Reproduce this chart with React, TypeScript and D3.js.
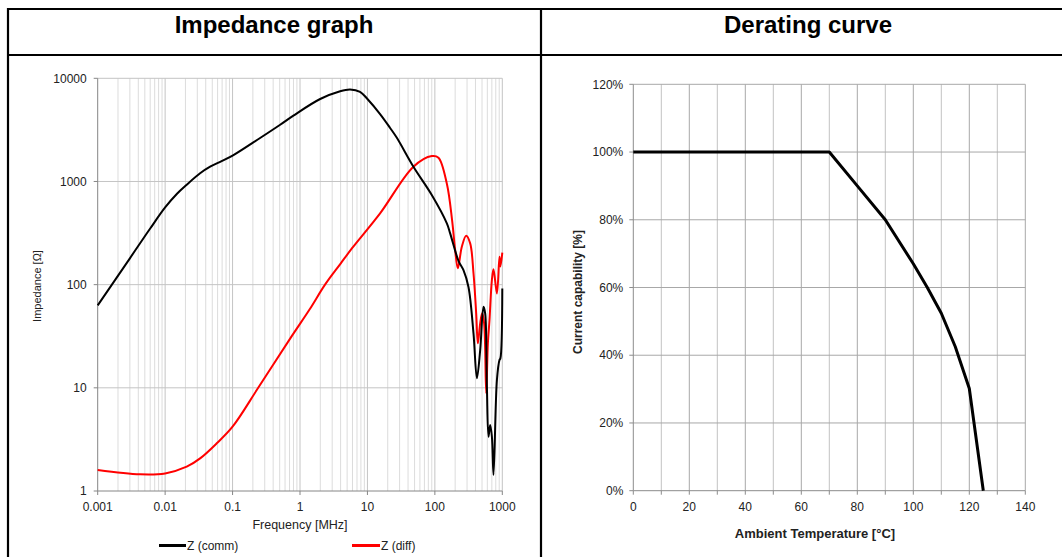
import React from 'react';
import * as d3 from 'd3';

// Impedance graph (frequency in MHz, impedance in ohm)
const commFreq = [0.001, 0.003, 0.006, 0.01, 0.015, 0.0209, 0.033, 0.0465, 0.07, 0.103, 0.256, 0.508, 0.798, 1.99, 3.94, 5.53, 7.77, 10, 15.4, 21.7, 27.3, 48.1, 90, 150.6, 168.6, 224, 265.6, 315, 374, 420, 470, 526, 557, 591, 624, 661, 701, 741, 832, 908, 937, 1000];
const commZ = [63, 180, 350, 560, 760, 930, 1200, 1390, 1580, 1800, 2640, 3550, 4350, 6300, 7500, 7800, 7400, 6300, 4500, 3300, 2650, 1390, 740, 393, 314, 170, 138, 95, 33.7, 12.4, 23.2, 61, 52.7, 10.3, 3.36, 4.36, 3.36, 1.43, 11.9, 18.6, 19.3, 92];

const diffFreq = [0.001, 0.00425, 0.01, 0.0209, 0.033, 0.0583, 0.1, 0.24, 0.75, 1.4, 2.35, 4, 6, 15.4, 48.1, 90.2, 113, 150.6, 180, 200, 219, 251, 291, 334, 374, 410, 434, 470, 503, 538, 577, 611, 646, 701, 741, 832, 908, 937, 1000];
const diffZ = [1.6, 1.45, 1.48, 1.72, 2.07, 2.9, 4.2, 10, 31.5, 58, 100, 160, 228, 491, 1390, 1762, 1700, 950, 423, 216, 144, 233, 298, 251, 129, 52.7, 27, 42.2, 52.7, 42, 8.85, 27, 45.4, 111, 141, 82, 186, 150, 204];

const freqTicks = [0.001, 0.01, 0.1, 1, 10, 100, 1000];
const freqLabels = ['0.001', '0.01', '0.1', '1', '10', '100', '1000'];
const zTicks = [1, 10, 100, 1000, 10000];

// Derating curve
const tempPts = [0, 70, 80, 90, 100, 105, 110, 115, 120, 125];
const capPts = [100, 100, 90, 80, 67, 60, 52.4, 42.5, 30.2, 0];
const tempTicks = [0, 20, 40, 60, 80, 100, 120, 140];
const tempMinor = [10, 30, 50, 70, 90, 110, 130];
const capTicks = [0, 20, 40, 60, 80, 100, 120];

const FONT = '"Liberation Sans", Arial, sans-serif';

export default function App() {
  // left chart scales
  const fx = d3.scaleLog().domain([0.001, 1000]).range([97.7, 502.3]);
  const zy = d3.scaleLog().domain([1, 10000]).range([491, 78.3]);

  const minorFreq: number[] = [];
  freqTicks.slice(0, -1).forEach(d => {
    for (let k = 2; k <= 9; k++) minorFreq.push(d * k);
  });

  const zLine = d3.line<[number, number]>().curve(d3.curveCatmullRom.alpha(0.5));
  const commPath = zLine(commFreq.map((f, i) => [fx(f), zy(commZ[i])] as [number, number]));
  const diffPath = zLine(diffFreq.map((f, i) => [fx(f), zy(diffZ[i])] as [number, number]));

  // right chart scales
  const tx = d3.scaleLinear().domain([0, 140]).range([633.3, 1025.3]);
  const cy = d3.scaleLinear().domain([0, 120]).range([490.7, 84.3]);
  const derPath = d3.line<number>()
    .x(d => tx(tempPts[d]))
    .y(d => cy(capPts[d]))(tempPts.map((_, i) => i));

  return (
    <svg width={1062} height={557} style={{ position: 'absolute', left: 0, top: 0, background: '#fff' }} fontFamily={FONT}>
      {/* table frame */}
      <g stroke="#000" strokeWidth={2.2} fill="none">
        <line x1={8} y1={9} x2={1062} y2={9} />
        <line x1={8} y1={55} x2={1062} y2={55} />
        <line x1={8} y1={8} x2={8} y2={557} />
        <line x1={541} y1={8} x2={541} y2={557} />
      </g>
      <text x={274} y={33} textAnchor="middle" fontSize={24} fontWeight="bold">Impedance graph</text>
      <text x={808} y={33} textAnchor="middle" fontSize={24} fontWeight="bold">Derating curve</text>

      {/* left chart grid */}
      <g>
        {minorFreq.map(f => (
          <line key={'m' + f} x1={fx(f)} x2={fx(f)} y1={zy(10000)} y2={zy(1)} stroke="#dcdcdc" strokeWidth={1} />
        ))}
        {freqTicks.slice(1).map(f => (
          <line key={'M' + f} x1={fx(f)} x2={fx(f)} y1={zy(10000)} y2={zy(1)} stroke="#c4c4c4" strokeWidth={1} />
        ))}
        {zTicks.slice(1).map(z => (
          <line key={'z' + z} x1={fx(0.001)} x2={fx(1000)} y1={zy(z)} y2={zy(z)} stroke="#c4c4c4" strokeWidth={1} />
        ))}
      </g>
      {/* left axes */}
      <g stroke="#868686" strokeWidth={1}>
        <line x1={fx(0.001)} x2={fx(0.001)} y1={zy(10000)} y2={zy(1)} />
        <line x1={fx(0.001)} x2={fx(1000)} y1={zy(1)} y2={zy(1)} />
        {zTicks.map(z => (
          <line key={'zt' + z} x1={fx(0.001) - 4} x2={fx(0.001)} y1={zy(z)} y2={zy(z)} />
        ))}
        {freqTicks.map(f => (
          <line key={'ft' + f} x1={fx(f)} x2={fx(f)} y1={zy(1)} y2={zy(1) + 4} />
        ))}
      </g>
      <g fontSize={12} fill="#222">
        {zTicks.map(z => (
          <text key={'zl' + z} x={fx(0.001) - 11} y={zy(z)} dy="0.35em" textAnchor="end">{z}</text>
        ))}
        {freqTicks.map((f, i) => (
          <text key={'fl' + f} x={fx(f)} y={zy(1) + 16} dy="0.35em" textAnchor="middle">{freqLabels[i]}</text>
        ))}
      </g>
      <text x={300} y={525} dy="0.35em" textAnchor="middle" fontSize={12.5} fill="#222">Frequency [MHz]</text>
      <text transform="translate(37,286) rotate(-90)" dy="0.35em" textAnchor="middle" fontSize={11} fill="#222">Impedance [Ω]</text>

      {/* curves */}
      <path d={diffPath ?? ''} fill="none" stroke="#ff0000" strokeWidth={2} strokeLinejoin="round" />
      <path d={commPath ?? ''} fill="none" stroke="#000" strokeWidth={2} strokeLinejoin="round" />

      {/* legend */}
      <line x1={159} x2={186} y1={545.5} y2={545.5} stroke="#000" strokeWidth={3} />
      <text x={187} y={545.5} dy="0.35em" fontSize={12} fill="#222">Z (comm)</text>
      <line x1={352} x2={380} y1={545.5} y2={545.5} stroke="#ff0000" strokeWidth={3} />
      <text x={381} y={545.5} dy="0.35em" fontSize={12} fill="#222">Z (diff)</text>

      {/* right chart grid */}
      <g strokeWidth={1}>
        {tempMinor.map(t => (
          <line key={'tm' + t} x1={tx(t)} x2={tx(t)} y1={cy(120)} y2={cy(0)} stroke="#c2c2c2" />
        ))}
        {tempTicks.slice(1).map(t => (
          <line key={'tg' + t} x1={tx(t)} x2={tx(t)} y1={cy(120)} y2={cy(0)} stroke="#a8a8a8" />
        ))}
        {capTicks.slice(1).map(c => (
          <line key={'cg' + c} x1={tx(0)} x2={tx(140)} y1={cy(c)} y2={cy(c)} stroke="#a8a8a8" />
        ))}
      </g>
      <g stroke="#8c8c8c" strokeWidth={1}>
        <line x1={tx(0)} x2={tx(0)} y1={cy(120)} y2={cy(0)} />
        <line x1={tx(0)} x2={tx(140)} y1={cy(0)} y2={cy(0)} />
        {capTicks.map(c => (
          <line key={'ct' + c} x1={tx(0) - 4} x2={tx(0)} y1={cy(c)} y2={cy(c)} />
        ))}
        {tempTicks.concat(tempMinor).map(t => (
          <line key={'tt' + t} x1={tx(t)} x2={tx(t)} y1={cy(0)} y2={cy(0) + 4} />
        ))}
      </g>
      <g fontSize={12} fill="#222">
        {capTicks.map(c => (
          <text key={'cl' + c} x={tx(0) - 10} y={cy(c)} dy="0.35em" textAnchor="end">{c + '%'}</text>
        ))}
        {tempTicks.map(t => (
          <text key={'tl' + t} x={tx(t)} y={cy(0) + 16} dy="0.35em" textAnchor="middle">{t}</text>
        ))}
      </g>
      <text x={815} y={533} dy="0.35em" textAnchor="middle" fontSize={13} fontWeight="bold" fill="#222">Ambient Temperature [°C]</text>
      <text transform="translate(578,292) rotate(-90)" dy="0.35em" textAnchor="middle" fontSize={12} fontWeight="bold" fill="#222">Current capability [%]</text>

      <path d={derPath ?? ''} fill="none" stroke="#000" strokeWidth={3} strokeLinejoin="round" />
    </svg>
  );
}
